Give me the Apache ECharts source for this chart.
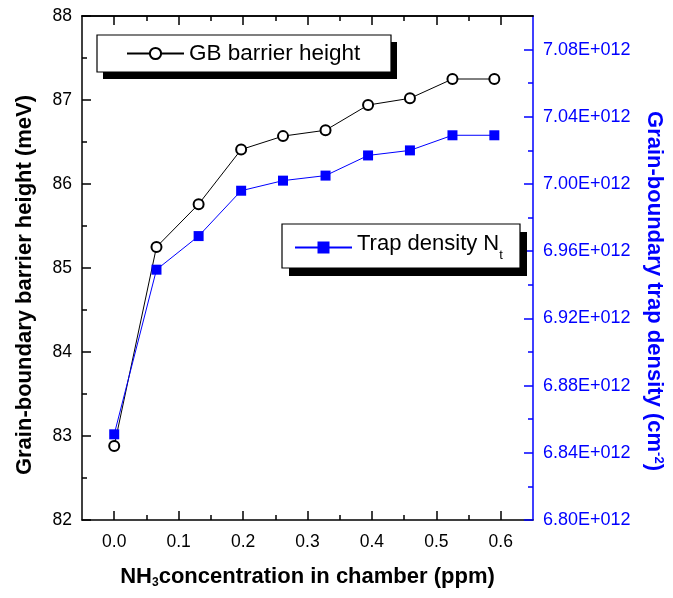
<!DOCTYPE html>
<html>
<head>
<meta charset="utf-8">
<script src="https://cdn.jsdelivr.net/npm/echarts@6/dist/echarts.min.js"></script>
<style>
  html, body { margin: 0; padding: 0; background: #fff; }
  #chart { width: 673px; height: 598px; }
</style>
</head>
<body>
<div id="chart"></div>
<script>
// NH3 concentration (ppm)
const concentration = [0, 0.0656, 0.131, 0.197, 0.262, 0.328, 0.394, 0.459, 0.525, 0.590]
// GB barrier height (meV)
const barrierHeight = [82.88, 85.25, 85.76, 86.41, 86.57, 86.64, 86.94, 87.02, 87.25, 87.25]
// trap density (cm^-2)
const trapDensity = [6.851e12, 6.949e12, 6.969e12, 6.996e12, 7.002e12, 7.005e12, 7.017e12, 7.020e12, 7.029e12, 7.029e12]

const xMajorTicks = [0, 0.1, 0.2, 0.3, 0.4, 0.5, 0.6]
const xMinorTicks = [0.05, 0.15, 0.25, 0.35, 0.45, 0.55]
const rightMajorTicks = [6.80e12, 6.84e12, 6.88e12, 6.92e12, 6.96e12, 7.00e12, 7.04e12, 7.08e12]
const rightMinorTicks = [6.82e12, 6.86e12, 6.90e12, 6.94e12, 6.98e12, 7.02e12, 7.06e12]

const FONT = 'Liberation Sans, Arial, sans-serif'
const BLUE = '#0000ff'
const LABEL_SIZE = 17.5
const TITLE_SIZE = 22

const chart = echarts.init(document.getElementById('chart'))

// bottom/top x axis, major or minor ticks only
function xAxisOf(position, ticks, len, main) {
	return {
		type: 'value',
		position: position,
		min: -0.05,
		max: 0.65,
		interval: 0.05,
		name: main ? '{m|NH}{sub|3}{m|concentration in chamber (ppm)}' : '',
		nameLocation: 'middle',
		nameGap: 46,
		nameTextStyle: {
			rich: {
				m: { fontFamily: FONT, fontSize: TITLE_SIZE, fontWeight: 'bold', color: '#000', verticalAlign: 'top' },
				sub: { fontFamily: FONT, fontSize: 12, fontWeight: 'bold', color: '#000', verticalAlign: 'top', padding: [11, 0, 0, 0] },
			},
		},
		axisLine: { show: main || position === 'top', onZero: false, lineStyle: { color: '#000', width: 1.5 } },
		axisTick: { show: true, inside: true, length: len, customValues: ticks, lineStyle: { color: '#000', width: 1.5 } },
		axisLabel: {
			show: main,
			customValues: ticks,
			margin: 13,
			fontFamily: FONT, fontSize: LABEL_SIZE, color: '#000',
			formatter: (v) => v.toFixed(1),
		},
		splitLine: { show: false },
	}
}

// legend frames with their offset black shadows
function legendFrame(x, y, w, h, dx, dy) {
	return [
		{ type: 'rect', z: 1, shape: { x: x + dx, y: y + dy, width: w, height: h }, style: { fill: '#000' } },
		{ type: 'rect', z: 2, shape: { x: x, y: y, width: w, height: h }, style: { fill: '#fff', stroke: '#000', lineWidth: 1.2 } },
	]
}

chart.setOption({
	animation: false,
	backgroundColor: '#fff',
	grid: { left: 82, top: 16, right: 138, bottom: 78 },
	graphic: [
		...legendFrame(97, 35, 294, 37, 6, 7),
		...legendFrame(282, 224, 238, 44, 7, 8),
	],
	legend: [
		{
			data: ['GB barrier height'],
			left: 126, top: 42,
			padding: 0,
			itemWidth: 57, itemHeight: 14,
			textStyle: { fontFamily: FONT, fontSize: 22.5, color: '#000' },
		},
		{
			data: ['Trap density Nt'],
			left: 294, top: 233,
			padding: 0,
			itemWidth: 57, itemHeight: 15,
			formatter: () => '{m|Trap density N}{sub|t}',
			textStyle: {
				rich: {
					m: { fontFamily: FONT, fontSize: TITLE_SIZE, color: '#000', verticalAlign: 'top' },
					sub: { fontFamily: FONT, fontSize: 13, color: '#000', verticalAlign: 'top', padding: [16, 0, 0, 0] },
				},
			},
		},
	],
	xAxis: [
		xAxisOf('bottom', xMajorTicks, 9, true),
		xAxisOf('bottom', xMinorTicks, 5, false),
		xAxisOf('top', xMajorTicks, 9, false),
		xAxisOf('top', xMinorTicks, 5, false),
	],
	yAxis: [
		{
			type: 'value',
			position: 'left',
			min: 82, max: 88, interval: 1,
			name: 'Grain-boundary barrier height (meV)',
			nameLocation: 'middle',
			nameGap: 46,
			nameTextStyle: { fontFamily: FONT, fontSize: TITLE_SIZE, fontWeight: 'bold', color: '#000', padding: [0, 34, 0, 0] },
			axisLine: { show: true, onZero: false, lineStyle: { color: '#000', width: 1.5 } },
			axisTick: { inside: true, length: 9, lineStyle: { color: '#000', width: 1.5 } },
			minorTick: { show: true, splitNumber: 2, length: 5, lineStyle: { color: '#000', width: 1.5 } },
			axisLabel: { margin: 10, fontFamily: FONT, fontSize: LABEL_SIZE, color: '#000' },
			splitLine: { show: false },
		},
		{
			type: 'value',
			position: 'right',
			min: 6.80e12, max: 7.10e12, interval: 0.02e12,
			name: '{m|Grain-boundary trap density (cm}{sup|-2}{m|)}',
			nameLocation: 'middle',
			nameRotate: -90,
			nameGap: 110,
			nameTextStyle: {
				padding: [0, 0, 0, 46],
				rich: {
					m: { fontFamily: FONT, fontSize: TITLE_SIZE, fontWeight: 'bold', color: BLUE, verticalAlign: 'top' },
					sup: { fontFamily: FONT, fontSize: 13, fontWeight: 'bold', color: BLUE, verticalAlign: 'top' },
				},
			},
			axisLine: { show: true, onZero: false, lineStyle: { color: BLUE, width: 1.5 } },
			axisTick: { inside: true, length: 9, customValues: rightMajorTicks, lineStyle: { color: BLUE, width: 1.5 } },
			axisLabel: {
				margin: 10, customValues: rightMajorTicks,
				fontFamily: FONT, fontSize: 18, color: BLUE,
				formatter: (v) => (v / 1e12).toFixed(2) + 'E+012',
			},
			splitLine: { show: false },
		},
		{
			type: 'value',
			position: 'right',
			min: 6.80e12, max: 7.10e12, interval: 0.02e12,
			axisLine: { show: false, onZero: false },
			axisTick: { inside: true, length: 5, customValues: rightMinorTicks, lineStyle: { color: BLUE, width: 1.5 } },
			axisLabel: { show: false },
			splitLine: { show: false },
		},
	],
	series: [
		{
			name: 'GB barrier height',
			type: 'line',
			xAxisIndex: 0,
			yAxisIndex: 0,
			data: concentration.map((x, i) => [x, barrierHeight[i]]),
			symbol: 'emptyCircle',
			symbolSize: 10,
			itemStyle: { color: '#000', borderColor: '#000', borderWidth: 1 },
			lineStyle: { color: '#000', width: 1 },
		},
		{
			name: 'Trap density Nt',
			type: 'line',
			xAxisIndex: 0,
			yAxisIndex: 1,
			data: concentration.map((x, i) => [x, trapDensity[i]]),
			symbol: 'rect',
			symbolSize: 10,
			itemStyle: { color: BLUE },
			lineStyle: { color: BLUE, width: 1 },
		},
	],
})
</script>
</body>
</html>
